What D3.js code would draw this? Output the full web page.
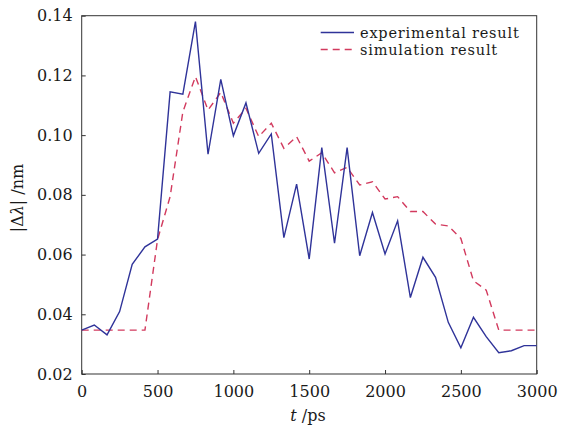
<!DOCTYPE html>
<html>
<head>
<meta charset="utf-8">
<script src="https://cdn.jsdelivr.net/npm/d3@7"></script>
<style>
  html, body { margin: 0; padding: 0; background: #fff; }
  svg { display: block; font-family: "DejaVu Serif", "Liberation Serif", serif; }
</style>
</head>
<body>
<div id="container"></div>
<script>
// time samples (ps)
const times = [0, 83, 167, 250, 333, 417, 500, 583, 667, 750, 833, 917, 1000, 1083, 1167, 1250,
  1333, 1417, 1500, 1583, 1667, 1750, 1833, 1917, 2000, 2083, 2167, 2250, 2333, 2417, 2500,
  2583, 2667, 2750, 2833, 2917, 3000];

const experimental = [0.0347, 0.0364, 0.0331, 0.0409, 0.0567, 0.0626, 0.0652, 0.1145, 0.1137,
  0.1380, 0.0936, 0.1187, 0.0998, 0.1108, 0.0939, 0.1004, 0.0657, 0.0836, 0.0585, 0.0958,
  0.0638, 0.0958, 0.0596, 0.0741, 0.0602, 0.0713, 0.0456, 0.0591, 0.0524, 0.0373, 0.0288,
  0.0390, 0.0325, 0.0271, 0.0278, 0.0295, 0.0295];

const simulation = [0.0347, 0.0347, 0.0347, 0.0347, 0.0347, 0.0347, 0.0650, 0.0794, 0.1078,
  0.1196, 0.1084, 0.1143, 0.1040, 0.1090, 0.0995, 0.1040, 0.0956, 0.0995, 0.0913, 0.0941,
  0.0874, 0.0892, 0.0833, 0.0844, 0.0786, 0.0794, 0.0744, 0.0744, 0.0702, 0.0696, 0.0654,
  0.0512, 0.0481, 0.0347, 0.0347, 0.0347, 0.0347];

const xTicks = [0, 500, 1000, 1500, 2000, 2500, 3000];
const yTicks = [0.02, 0.04, 0.06, 0.08, 0.10, 0.12, 0.14];
const legendLabels = ["experimental result", "simulation result"];

const width = 561, height = 428;
const margin = { top: 15.7, right: 24.3, bottom: 54, left: 81.7 };
const iw = width - margin.left - margin.right;
const ih = height - margin.top - margin.bottom;

const blue = "#2f3399";
const red = "#d23a5e";
const frame = "#333";
const ink = "#1a1a1a";

const svg = d3.select("#container").append("svg")
  .attr("width", width).attr("height", height);

const g = svg.append("g")
  .attr("transform", `translate(${margin.left},${margin.top})`);

const x = d3.scaleLinear().domain([0, 3000]).range([0, iw]);
const y = d3.scaleLinear().domain([0.02, 0.14]).range([ih, 0]);

// axes with inward ticks
const xAxis = g.append("g")
  .attr("transform", `translate(0,${ih})`)
  .call(d3.axisBottom(x).tickValues(xTicks).tickFormat(d3.format("d"))
    .tickSizeInner(-4).tickSizeOuter(0).tickPadding(12));
const yAxis = g.append("g")
  .call(d3.axisLeft(y).tickValues(yTicks).tickFormat(d3.format(".2f"))
    .tickSizeInner(-4).tickSizeOuter(0).tickPadding(9));

[xAxis, yAxis].forEach(a => {
  a.select(".domain").remove();
  a.selectAll("line").attr("stroke", frame).attr("stroke-width", 1);
  a.selectAll("text").attr("fill", ink).style("font-size", "16px")
    .style("font-family", "DejaVu Serif, serif");
});

// frame
g.append("rect")
  .attr("x", 0).attr("y", 0).attr("width", iw).attr("height", ih)
  .attr("fill", "none").attr("stroke", frame).attr("stroke-width", 1);

const line = d3.line()
  .x((d, i) => x(times[i]))
  .y(d => y(d));

g.append("path")
  .datum(simulation)
  .attr("fill", "none")
  .attr("stroke", red)
  .attr("stroke-width", 1.4)
  .attr("stroke-dasharray", "7,5")
  .attr("d", line);

g.append("path")
  .datum(experimental)
  .attr("fill", "none")
  .attr("stroke", blue)
  .attr("stroke-width", 1.4)
  .attr("d", line);

// legend
const legend = svg.append("g");
[[blue, null], [red, "7,5"]].forEach(([c, dash], i) => {
  const ly = 32.5 + i * 17;
  legend.append("line")
    .attr("x1", 320.7).attr("x2", 354)
    .attr("y1", ly).attr("y2", ly)
    .attr("stroke", c).attr("stroke-width", 1.4)
    .attr("stroke-dasharray", dash);
  legend.append("text")
    .attr("x", 360).attr("y", ly + 5)
    .attr("fill", ink)
    .style("font-size", "14.5px")
    .style("letter-spacing", "0.8px")
    .text(legendLabels[i]);
});

// axis labels
const xl = svg.append("text")
  .attr("x", 308).attr("y", 421)
  .attr("text-anchor", "middle")
  .attr("fill", ink)
  .style("font-size", "16px");
xl.append("tspan").style("font-style", "italic").text("t");
xl.append("tspan").text(" /ps");

const yl = svg.append("text")
  .attr("transform", `translate(23,198) rotate(-90)`)
  .attr("text-anchor", "middle")
  .attr("fill", ink)
  .style("font-size", "16px");
yl.append("tspan").text("|Δ");
yl.append("tspan").style("font-style", "italic").text("λ");
yl.append("tspan").text("| /nm");
</script>
</body>
</html>
